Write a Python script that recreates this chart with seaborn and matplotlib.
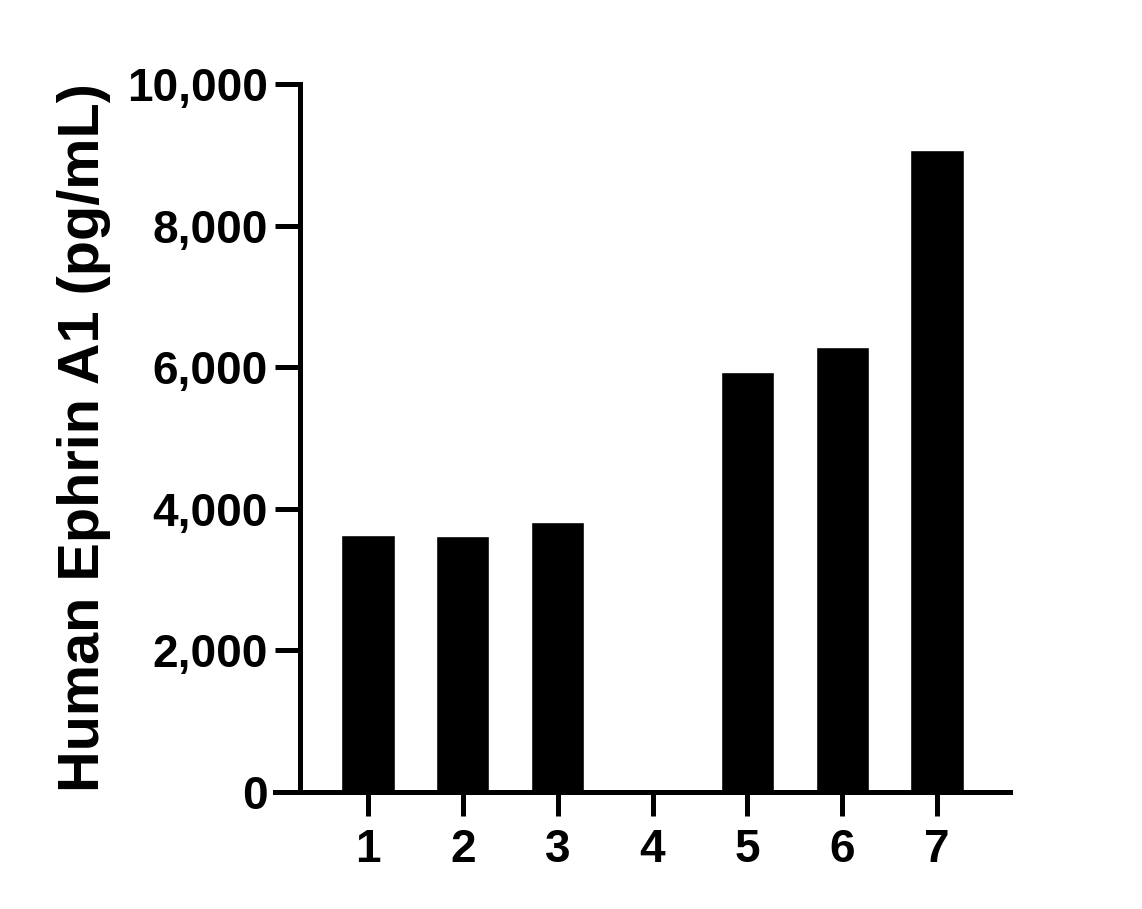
import numpy as np
import pandas as pd
import matplotlib
matplotlib.use('Agg')
import matplotlib.pyplot as plt
from matplotlib.ticker import FuncFormatter
import seaborn as sns

# dados
amostras = ['1', '2', '3', '4', '5', '6', '7']
ephrin_a1 = [3630, 3616, 3814, 0, 5932, 6285, 9068]

df = pd.DataFrame({'Amostra': amostras, 'Valor': ephrin_a1})

sns.set_theme(style='white')
plt.rcParams['font.family'] = ['Liberation Sans', 'DejaVu Sans']
plt.rcParams['font.weight'] = 'bold'
plt.rcParams['text.color'] = 'black'
plt.rcParams['axes.labelcolor'] = 'black'
plt.rcParams['xtick.color'] = 'black'
plt.rcParams['ytick.color'] = 'black'

fig = plt.figure(figsize=(11.42, 9.09), dpi=100)
ax = fig.add_axes([275 / 1142, 1 - 792 / 909, 735 / 1142, 708 / 909])

sns.barplot(data=df, x='Amostra', y='Valor', color='black', width=0.56,
            saturation=1, ax=ax, errorbar=None)

ax.set_xlim(-0.981, 6.770)
ax.set_ylim(0, 10000)
ax.set_yticks([0, 2000, 4000, 6000, 8000, 10000])
ax.yaxis.set_major_formatter(FuncFormatter(lambda v, p: f'{int(v):,}'))

for s in ['top', 'right']:
    ax.spines[s].set_visible(False)
for s in ['left', 'bottom']:
    ax.spines[s].set_linewidth(3.6)
    ax.spines[s].set_color('black')
ax.spines['left'].set_position(('data', -0.717))
ax.spines['left'].set_bounds(0, 10000)

ax.tick_params(axis='y', length=18, width=3.6, color='black', left=True,
               labelsize=33, pad=5, labelcolor='black')
ax.tick_params(axis='x', length=17, width=3.6, color='black', bottom=True,
               labelsize=33, pad=9, labelcolor='black')
for lbl in ax.get_xticklabels() + ax.get_yticklabels():
    lbl.set_fontweight('bold')

ax.set_xlabel('')
ax.set_ylabel('Human Ephrin A1 (pg/mL)', fontsize=41.5, fontweight='bold',
              labelpad=12, color='black')

plt.savefig('out.png', dpi=100)
